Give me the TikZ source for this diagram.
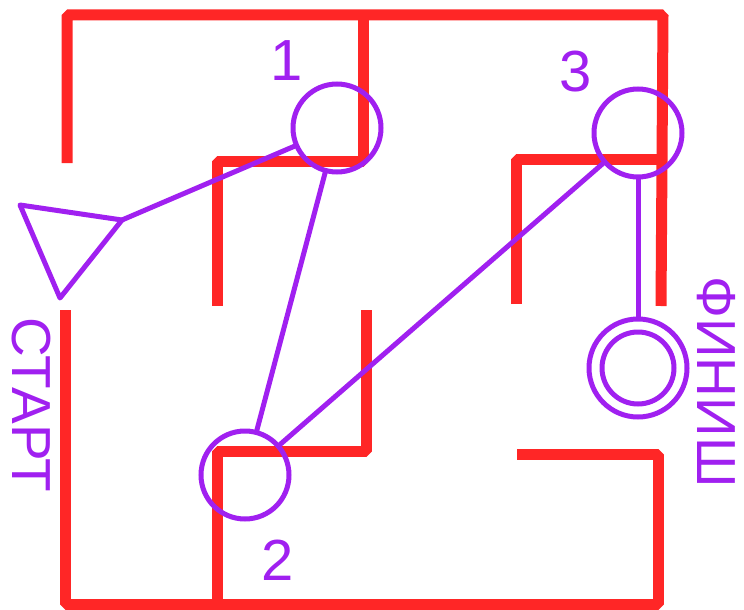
\documentclass[tikz,border=0pt]{standalone}
\usepackage{fontspec}
\setmainfont{Liberation Sans}
\usepackage{xcolor}
\usepackage{tikz}
\usetikzlibrary{calc}
\definecolor{wall}{HTML}{FF2626}
\definecolor{route}{HTML}{A020F0}
\tikzset{
  wall/.style={draw=wall, line width=11pt, line join=bevel},
  route/.style={draw=route, line width=5pt, line cap=round, line join=round},
  stop/.style={circle, draw=route, line width=5pt, inner sep=0pt, minimum size=88pt},
  num/.style={text=route, font=\fontsize{58}{58}\selectfont},
  side/.style={text=route, font=\fontsize{55}{55}\selectfont, rotate=-90},
}
\begin{document}
\begin{tikzpicture}[x=1pt,y=-1pt]
  \useasboundingbox (0,0) rectangle (744,610);
  % maze walls
  \draw[wall] (67,163) -- (67,15) -- (663,15) -- (661,306);
  \draw[wall] (363,15) -- (363,161) -- (217,161) -- (217,306);
  \draw[wall] (516,304) -- (516,159) -- (661,159);
  \draw[wall] (366,310) -- (366,451) -- (217,451) -- (217,604);
  \draw[wall] (65,310) -- (65,604) -- (658,604) -- (658,454) -- (517,454);
  % start and finish
  \coordinate (t1) at (20,205);
  \coordinate (tip) at (122,220);
  \coordinate (t3) at (60,298);
  \draw[route] (t1) -- (tip) -- (t3) -- cycle;
  \node[side] (start) at (31,405) {СТАРТ};
  \node[side] (finish) at (716,382) {ФИНИШ};
  % checkpoints
  \node[stop] (c1) at (337,128) {};
  \node[stop] (c2) at (245,475) {};
  \node[stop] (c3) at (638,133) {};
  \node[stop, minimum size=98pt] (fin) at (638,368) {};
  \draw[route] (fin.center) circle[radius=36pt];
  \node[num] (n1) at (287,61) {1};
  \node[num] (n2) at (278,560) {2};
  \node[num] (n3) at (576,72) {3};
  % route
  \draw[route] (tip) -- (c1);
  \draw[route] (c1) -- (c2);
  \draw[route] (c2) -- (c3);
  \draw[route] (c3) -- (fin);
\end{tikzpicture}
\end{document}
